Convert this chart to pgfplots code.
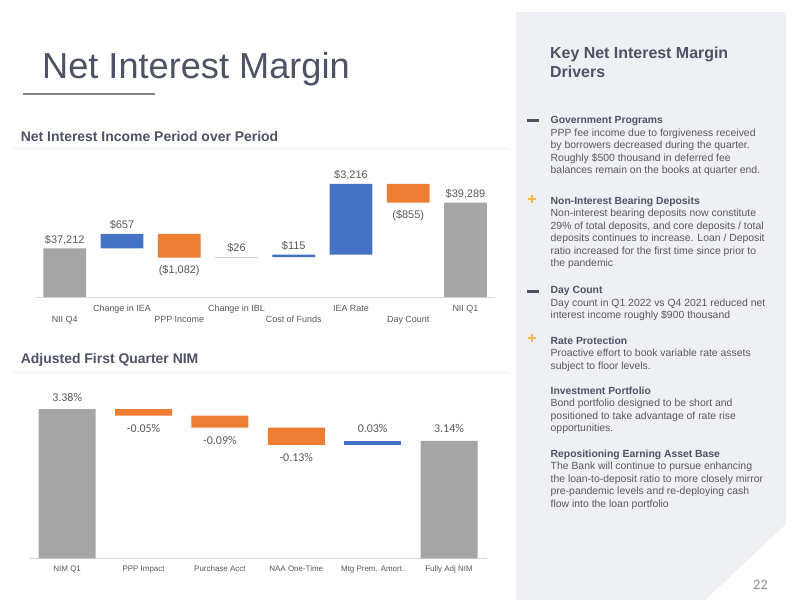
\documentclass[border=0pt]{standalone}
\usepackage{pgfplots}
\pgfplotsset{compat=1.18}
\usepackage{pgfplotstable}
\usepackage{fontspec}
\setmainfont{Liberation Sans}
\newfontfamily\calib{Carlito}
\definecolor{tblue}{HTML}{4472C4}
\definecolor{torange}{HTML}{ED7D31}
\definecolor{tgray}{HTML}{A5A5A5}
\definecolor{tlight}{HTML}{C5D0E0}
\definecolor{txt}{HTML}{595959}
\definecolor{head}{HTML}{4D5264}
\definecolor{panel}{HTML}{EFF0F4}
\definecolor{plusc}{HTML}{F4B74A}
\definecolor{axisc}{HTML}{D9D9D9}
\definecolor{sepc}{HTML}{F0F0F0}
\definecolor{ulc}{HTML}{808080}
\definecolor{pgnum}{HTML}{8C8C8C}

\tikzset{
  lblA/.style={anchor=base, inner sep=0pt, text=txt, font=\fontsize{11}{13}\selectfont},
  lblB/.style={anchor=base, inner sep=0pt, text=txt, font=\calib\fontsize{12}{14}\selectfont},
}

% base = lower end of each floating bar (axis floor for the totals)
\pgfplotstableread{
x base gray blue orange light
0 35000 2212 0 0 0
1 37212 0 657 0 0
2 36787 0 0 1082 0
3 36787 0 0 0 26
4 36813 0 115 0 0
5 36928 0 3216 0 0
6 39289 0 0 855 0
7 35000 4289 0 0 0
}\niitable

\pgfplotstableread{
x base gray blue orange
0 2.25 1.13 0 0
1 3.33 0 0 0.05
2 3.24 0 0 0.09
3 3.11 0 0 0.13
4 3.11 0 0.03 0
5 2.25 0.89 0 0
}\nimtable

\newcommand\hd[2]{\node[anchor=base west,inner sep=0pt,font=\bfseries\fontsize{10.4}{12}\selectfont,text=head] at (550.5bp,-#1bp) {#2};}
\newcommand\bd[2]{\node[anchor=base west,inner sep=0pt,font=\fontsize{10.45}{12}\selectfont,text=txt] at (550.5bp,-#1bp) {#2};}
\newcommand\minusicon[1]{\fill[head] (526.5bp,-#1bp+1.5bp) rectangle (538.5bp,-#1bp-1.5bp);}
\newcommand\plusicon[2]{\fill[plusc] (#1bp-4bp,-#2bp+1bp) rectangle (#1bp+4bp,-#2bp-1bp);
  \fill[plusc] (#1bp-1bp,-#2bp+4bp) rectangle (#1bp+1bp,-#2bp-4bp);}

\begin{document}
\begin{tikzpicture}
\fill[white] (0,0) rectangle (792bp,-612bp);
% side panel
\fill[panel] (516bp,-12bp) -- (786bp,-12bp) -- (786bp,-524bp) -- (705bp,-600bp) -- (516bp,-600bp) -- cycle;

% title
\node[anchor=base west, inner sep=0pt, text=head, font=\fontsize{36.3}{40}\selectfont] at (42bp,-78bp) {Net Interest Margin};
\draw[ulc, line width=1.8bp] (23bp,-94bp) -- (155bp,-94bp);

% subtitles
\node[anchor=base west, inner sep=0pt, text=head, font=\bfseries\fontsize{14}{16}\selectfont] at (20.7bp,-141bp) {Net Interest Income Period over Period};
\draw[sepc, line width=1bp] (13bp,-148.5bp) -- (510bp,-148.5bp);
\node[anchor=base west, inner sep=0pt, text=head, font=\bfseries\fontsize{14}{16}\selectfont] at (20.7bp,-363bp) {Adjusted First Quarter NIM};
\draw[sepc, line width=1bp] (13bp,-372bp) -- (510bp,-372bp);

% chart 1
\begin{axis}[at={(36.1bp,-297bp)}, anchor=south west, scale only axis,
  width=458bp, height=132bp, xmin=-0.5, xmax=7.5, ymin=35000, ymax=41000,
  ybar stacked, bar width=42.7bp, hide y axis, axis x line*=bottom,
  x axis line style={draw=axisc, line width=1bp},
  xtick={0,...,7}, major tick length=0pt,
  xticklabels={{\strut\\\strut NII Q4},{\strut Change in IEA\\\strut},{\strut\\\strut PPP Income},{\strut Change in IBL\\\strut},{\strut\\\strut Cost of Funds},{\strut IEA Rate\\\strut},{\strut\\\strut Day Count},{\strut NII Q1\\\strut}},
  xticklabel style={align=center, font=\fontsize{9}{11.5}\selectfont, text=txt, inner sep=0pt, anchor=north, yshift=-6bp},
  clip=false]
\addplot[draw=none, fill=none] table[x=x, y=base] {\niitable};
\addplot[draw=none, fill=tgray] table[x=x, y=gray] {\niitable};
\addplot[draw=none, fill=tblue] table[x=x, y=blue] {\niitable};
\addplot[draw=none, fill=torange] table[x=x, y=orange] {\niitable};
\addplot[draw=tlight, line width=1.2bp, fill=tlight] table[x=x, y=light] {\niitable};
\node[lblA, yshift=5bp] at (axis cs:0,37212) {\$37,212};
\node[lblA, yshift=5bp] at (axis cs:1,37869) {\$657};
\node[lblA, yshift=-15.5bp] at (axis cs:2,36787) {(\$1,082)};
\node[lblA, yshift=5.5bp] at (axis cs:3,36813) {\$26};
\node[lblA, yshift=5.5bp] at (axis cs:4,36928) {\$115};
\node[lblA, yshift=5.5bp] at (axis cs:5,40144) {\$3,216};
\node[lblA, yshift=-15.5bp] at (axis cs:6,39289) {(\$855)};
\node[lblA, yshift=5bp] at (axis cs:7,39289) {\$39,289};
\end{axis}

% chart 2
\begin{axis}[at={(29bp,-558.3bp)}, anchor=south west, scale only axis,
  width=458.2bp, height=165bp, xmin=-0.5, xmax=5.5, ymin=2.25, ymax=3.5,
  ybar stacked, bar width=57bp, hide y axis, axis x line*=bottom,
  x axis line style={draw=axisc, line width=1bp},
  xtick={0,...,5}, major tick length=0pt,
  xticklabels={NIM Q1, PPP Impact, Purchase Acct, NAA One-Time, Mtg Prem. Amort., Fully Adj NIM},
  xticklabel style={font=\fontsize{8}{10}\selectfont, text=txt, inner sep=0pt, anchor=north, yshift=-6.2bp, text height=7bp},
  clip=false]
\addplot[draw=none, fill=none] table[x=x, y=base] {\nimtable};
\addplot[draw=none, fill=tgray] table[x=x, y=gray] {\nimtable};
\addplot[draw=none, fill=tblue] table[x=x, y=blue] {\nimtable};
\addplot[draw=none, fill=torange] table[x=x, y=orange] {\nimtable};
\node[lblB, yshift=8bp] at (axis cs:0,3.38) {3.38\%};
\node[lblB, yshift=-17bp] at (axis cs:1,3.33) {-0.05\%};
\node[lblB, yshift=-17bp] at (axis cs:2,3.24) {-0.09\%};
\node[lblB, yshift=-17bp] at (axis cs:3,3.11) {-0.13\%};
\node[lblB, yshift=8bp] at (axis cs:4,3.14) {0.03\%};
\node[lblB, yshift=8bp] at (axis cs:5,3.14) {3.14\%};
\end{axis}

% panel text
\node[anchor=base west, inner sep=0pt, text=head, font=\bfseries\fontsize{16}{19}\selectfont] at (550bp,-58.3bp) {Key Net Interest Margin};
\node[anchor=base west, inner sep=0pt, text=head, font=\bfseries\fontsize{16}{19}\selectfont] at (550bp,-77.8bp) {Drivers};

\minusicon{120}
\hd{123.5}{Government Programs}
\bd{136}{PPP fee income due to forgiveness received}
\bd{148.5}{by borrowers decreased during the quarter.}
\bd{161}{Roughly \$500 thousand in deferred fee}
\bd{173.5}{balances remain on the books at quarter end.}

\plusicon{532}{198.5}
\hd{204}{Non-Interest Bearing Deposits}
\bd{216.5}{Non-interest bearing deposits now constitute}
\bd{229}{29\% of total deposits, and core deposits / total}
\bd{241.5}{deposits continues to increase. Loan / Deposit}
\bd{254}{ratio increased for the first time since prior to}
\bd{266.5}{the pandemic}

\minusicon{291}
\hd{293.5}{Day Count}
\bd{306}{Day count in Q1 2022 vs Q4 2021 reduced net}
\bd{318.5}{interest income roughly \$900 thousand}

\plusicon{532}{338}
\hd{344}{Rate Protection}
\bd{356.5}{Proactive effort to book variable rate assets}
\bd{369}{subject to floor levels.}

\hd{394}{Investment Portfolio}
\bd{406.5}{Bond portfolio designed to be short and}
\bd{419}{positioned to take advantage of rate rise}
\bd{431.5}{opportunities.}

\hd{457}{Repositioning Earning Asset Base}
\bd{469.5}{The Bank will continue to pursue enhancing}
\bd{482}{the loan-to-deposit ratio to more closely mirror}
\bd{494.5}{pre-pandemic levels and re-deploying cash}
\bd{507}{flow into the loan portfolio}

\node[anchor=base, inner sep=0pt, text=pgnum, font=\calib\fontsize{14.5}{16}\selectfont] at (760.5bp,-589bp) {22};

\pgfresetboundingbox
\useasboundingbox (0,0) rectangle (792bp,-612bp);
\end{tikzpicture}
\end{document}
